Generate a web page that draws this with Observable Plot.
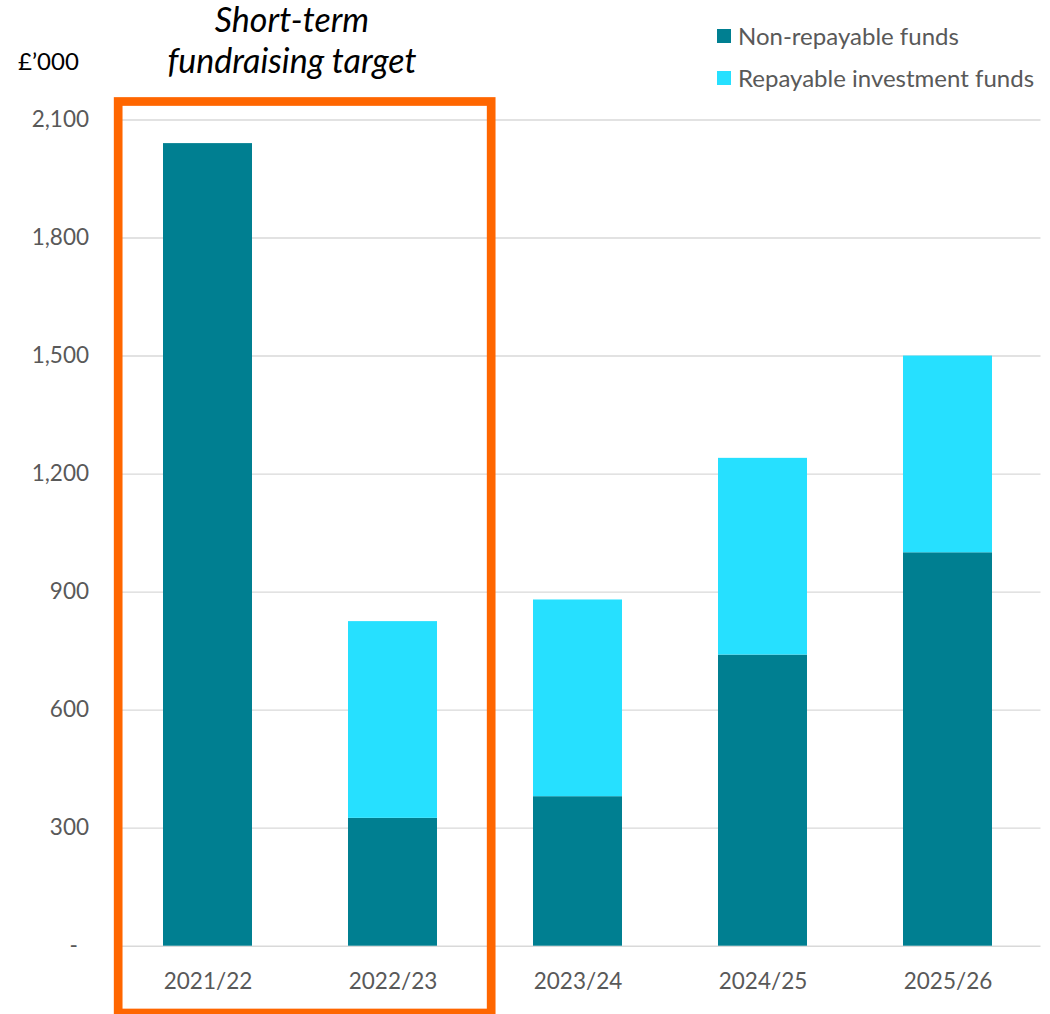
<!DOCTYPE html>
<html>
<head>
<meta charset="utf-8">
<script src="https://cdn.jsdelivr.net/npm/d3@7"></script>
<script src="https://cdn.jsdelivr.net/npm/@observablehq/plot@0.6"></script>
<style>
  html, body { margin: 0; padding: 0; background: #fff; }
  #wrap { position: relative; width: 1050px; height: 1014px; font-family: Lato, "Open Sans", sans-serif; color: #595959; }
  #wrap svg { position: absolute; left: 0; top: 0; }
  .ov { position: absolute; white-space: nowrap; line-height: 1.2; }
  .title { font-style: italic; color: #000; font-size: 34px; width: 360px; text-align: center; left: 112px; }
  .unit { left: 18px; top: 47px; font-size: 24px; color: #000; }
  .leg { left: 717px; font-size: 24px; display: flex; align-items: center; }
  .sw { width: 14px; height: 14px; margin-right: 7px; display: inline-block; }
</style>
</head>
<body>
<div id="wrap">
  <div class="ov title" style="top:-1px">Short-term</div>
  <div class="ov title" style="top:40px">fundraising target</div>
  <div class="ov unit">£’000</div>
  <div id="legend"></div>
</div>
<script>
const years = ["2021/22", "2022/23", "2023/24", "2024/25", "2025/26"];
const nonRepayable = [2040, 325, 380, 740, 1000];
const repayable = [0, 500, 500, 500, 500];
const seriesNames = ["Non-repayable funds", "Repayable investment funds"];
const seriesColors = ["#007F91", "#26E0FF"];
const yTicks = [0, 300, 600, 900, 1200, 1500, 1800, 2100];
const highlighted = ["2021/22", "2022/23"];

const rows = [];
years.forEach((yr, i) => {
  if (nonRepayable[i] > 0) rows.push({year: yr, series: seriesNames[0], value: nonRepayable[i]});
  if (repayable[i] > 0) rows.push({year: yr, series: seriesNames[1], value: repayable[i]});
});

const padInner = 0.517, padOuter = 0.2585;

function highlightBox(index, scales, values, dimensions) {
  const x = scales.x, y = scales.y;
  const step = x(years[1]) - x(years[0]);
  const i0 = years.indexOf(highlighted[0]);
  const i1 = years.indexOf(highlighted[highlighted.length - 1]);
  const left = x(years[i0]) - padOuter * step + 3;
  const rightEdge = x(years[i1]) + (1 - padInner) * step + (padInner * step) / 2 + 6;
  const top = y(yTicks[yTicks.length - 1]) - 18;
  const bottom = dimensions.height - 1;
  return d3.create("svg:rect")
    .attr("x", left).attr("y", top)
    .attr("width", rightEdge - left).attr("height", bottom - top)
    .attr("fill", "none").attr("stroke", "#FF6600").attr("stroke-width", 8.7)
    .node();
}

const chart = Plot.plot({
  width: 1050,
  height: 1014,
  marginLeft: 115.5,
  marginRight: 9.5,
  marginTop: 119.5,
  marginBottom: 68.3,
  style: {fontFamily: "Lato, 'Open Sans', sans-serif", fontSize: "22.5px", color: "#595959", background: "transparent"},
  x: {domain: years, paddingInner: padInner, paddingOuter: padOuter, tickSize: 0, tickPadding: 26.5, label: null},
  y: {domain: [0, 2100], ticks: yTicks, tickSize: 0, tickPadding: 27,
      tickFormat: d => d === 0 ? "-\u2002" : d3.format(",")(d), label: null},
  color: {domain: seriesNames, range: seriesColors},
  marks: [
    Plot.ruleY(yTicks, {stroke: "#d9d9d9", strokeWidth: 1.4}),
    Plot.barY(rows, Plot.stackY({x: "year", y: "value", fill: "series", order: seriesNames})),
    highlightBox
  ]
});
document.getElementById("wrap").appendChild(chart);

const legend = document.getElementById("legend");
seriesNames.forEach((name, i) => {
  const d = document.createElement("div");
  d.className = "ov leg";
  d.style.top = (22 + i * 42) + "px";
  d.innerHTML = `<span class="sw" style="background:${seriesColors[i]}"></span><span>${name}</span>`;
  legend.appendChild(d);
});
</script>
</body>
</html>
